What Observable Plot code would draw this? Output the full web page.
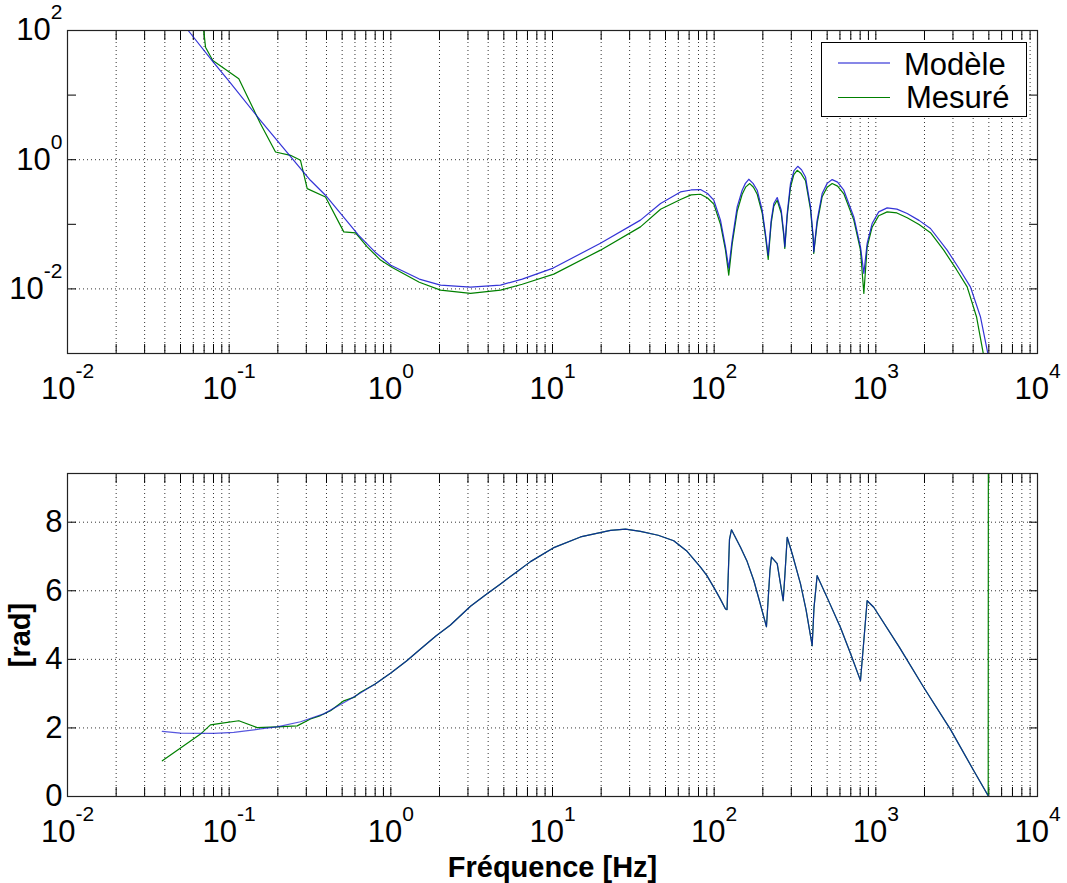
<!DOCTYPE html>
<html><head><meta charset="utf-8">
<script src="https://cdn.jsdelivr.net/npm/d3@7"></script>
<script src="https://cdn.jsdelivr.net/npm/@observablehq/plot@0.6"></script>
<style>
body{margin:0;background:#fff;font-family:"Liberation Sans",Arial,sans-serif;}
#wrap{position:relative;width:1067px;height:883px;overflow:hidden;background:#fff}
#top{position:absolute;left:0;top:0}
#bot{position:absolute;left:0;top:400px}
#legend{position:absolute;left:821px;top:42px}
</style></head>
<body><div id="wrap"><div id="top"></div><div id="bot"></div>
<svg id="legend" width="207" height="76" font-family="Liberation Sans, Arial, sans-serif">
<rect x="0.5" y="0.5" width="205" height="74" fill="#fff" stroke="#000" stroke-width="1"/>
<line x1="17" x2="69" y1="21" y2="21" stroke="#1010d0" stroke-width="1.2"/>
<text x="83" y="32.5" font-size="31" fill="#000">Modèle</text>
<line x1="17" x2="69" y1="55.5" y2="55.5" stroke="#008000" stroke-width="1.2"/>
<text x="85" y="65.5" font-size="31" fill="#000">Mesuré</text>
</svg>
</div>
<script>
// ---------- data ----------
const xDomain = [1e-2, 1e4];
const xLabelTicks = [1e-2, 1e-1, 1e0, 1e1, 1e2, 1e3, 1e4];
const xTickText = ["10^-2", "10^-1", "10^0", "10^1", "10^2", "10^3", "10^4"];
const magDomain = [1e-3, 1e2];
const magDecades = [1e-3, 1e-2, 1e-1, 1e0, 1e1, 1e2];
const magLabelTicks = [1e-2, 1e0, 1e2];
const magTickText = ["10^-2", "10^0", "10^2"];
const phaseDomain = [0, 9.42];
const phaseTicks = [0, 2, 4, 6, 8];
const phaseGrid = [2, 4, 6, 8];
const xTitle = "Fréquence [Hz]";
const yTitle = "[rad]";

// magnitude, model (frequency Hz, value)
const modeleMag = [[0.0386,300],[0.05,139],[0.0558,100],[0.080,32],[0.1,16.3],[0.156,4.06],[0.318,0.48],[0.394,0.282],[0.5,0.138],[0.631,0.068],[0.8,0.037],[1.0,0.0233],[1.5,0.0142],[2.03,0.01146],[3.11,0.01066],[4.77,0.01146],[6.5,0.0142],[10.1,0.021],[19.8,0.051],[35,0.116],[46.6,0.21],[61.9,0.317],[72,0.34],[82.3,0.345],[91,0.30],[99.5,0.236],[109.4,0.116],[117.5,0.0448],[123.1,0.021],[129.2,0.0568],[138.8,0.186],[149,0.337],[156,0.43],[163.7,0.498],[174,0.43],[184.6,0.337],[198.2,0.165],[207.6,0.0721],[215.9,0.0333],[225.3,0.116],[233.8,0.2096],[245.4,0.2597],[260,0.165],[269.7,0.0721],[273.5,0.0448],[283,0.147],[296.5,0.427],[312,0.68],[328.9,0.791],[347,0.70],[367.3,0.541],[394.5,0.186],[409.8,0.0638],[413,0.0374],[433.5,0.116],[465.6,0.299],[500,0.43],[537,0.492],[580,0.45],[633.9,0.337],[730.8,0.130],[803.5,0.0448],[843,0.0174],[883.5,0.0505],[948.5,0.1028],[1042,0.1556],[1175,0.1794],[1350,0.172],[1563,0.147],[1850,0.115],[2178,0.0861],[2761,0.0398],[3300,0.02],[3847,0.01077],[4436,0.00371],[4921,0.00102],[5050,0.0003]];
// magnitude, measured
const mesureMag = [[0.0386,3.5e5],[0.0665,291],[0.0714,55.2],[0.0792,34.4],[0.1147,17.9],[0.1562,3.61],[0.1935,1.315],[0.2395,1.169],[0.2762,0.979],[0.3039,0.357],[0.3944,0.265],[0.5117,0.0763],[0.6045,0.0736],[0.7143,0.0448],[0.863,0.0279],[1.0195,0.0215],[1.5,0.0127],[2.03,0.00958],[3.11,0.00851],[4.77,0.00958],[6.5,0.0118],[10.19,0.01694],[19.8,0.0398],[35,0.0912],[46.6,0.171],[61.9,0.2417],[72,0.285],[82.3,0.292],[91,0.255],[99.5,0.205],[109.4,0.1004],[117.5,0.0398],[123.1,0.0163],[129.2,0.0492],[138.8,0.159],[149,0.292],[157,0.38],[166,0.427],[175,0.375],[184.6,0.292],[198.2,0.1485],[207.6,0.0655],[215.9,0.0286],[225.3,0.104],[233.8,0.1905],[245.4,0.236],[260,0.1485],[269.7,0.0655],[273.5,0.0423],[283,0.133],[296.5,0.374],[311,0.59],[326.3,0.686],[345,0.61],[367.3,0.472],[394.5,0.168],[409.8,0.0589],[413,0.0354],[433.5,0.104],[465.6,0.267],[500,0.375],[537,0.427],[580,0.39],[633.9,0.297],[730.8,0.116],[803.5,0.0398],[843,0.00851],[883.5,0.0443],[948.5,0.0902],[1042,0.136],[1175,0.1556],[1350,0.150],[1563,0.1265],[1850,0.099],[2178,0.0741],[2630,0.0398],[3150,0.02],[3673,0.01077],[4194,0.00371],[4613,0.00102],[4750,0.0004]];
// phase, model
const modelePhase = [[0.0386,1.90],[0.05,1.85],[0.0804,1.84],[0.1068,1.87],[0.1562,1.97],[0.198,2.03],[0.2762,2.18],[0.385,2.41],[0.537,2.79],[0.6336,2.99],[0.8,3.28],[1.0,3.6],[1.25,3.95],[1.526,4.3],[1.9,4.68],[2.339,5.0],[3.11,5.55],[3.9,5.9],[4.77,6.2],[6,6.55],[7.31,6.85],[10.1,7.25],[14.9,7.57],[22.84,7.76],[28.3,7.8],[35,7.73],[45,7.62],[56.2,7.46],[68,7.15],[82.3,6.69],[90,6.45],[99.5,6.10],[108,5.8],[117.5,5.47],[120.1,5.45],[124.4,7.5],[128,7.78],[145.5,7.27],[160,6.85],[175.8,6.30],[192,5.65],[210.6,4.95],[221.4,6.6],[226.2,6.98],[245.4,6.79],[267.3,5.71],[274.2,6.5],[283,7.56],[303.8,7.08],[342,6.2],[370,5.45],[403.9,4.40],[414.4,5.5],[433.5,6.44],[500,5.8],[604.4,4.93],[700,4.15],[803.5,3.38],[844.8,4.6],[883.5,5.71],[970.9,5.52],[1400,4.35],[1980,3.18],[2900,1.95],[4036,0.75],[4955,0.02],[5050,-0.2]];
// phase, measured
const mesurePhase = [[0.0386,1.04],[0.0665,1.82],[0.0766,2.09],[0.0884,2.13],[0.1147,2.21],[0.149,2.01],[0.198,2.03],[0.2635,2.06],[0.3184,2.26],[0.3672,2.36],[0.4235,2.50],[0.5117,2.79],[0.59,2.89],[0.649,3.04],[0.8,3.28],[1.0,3.6],[1.25,3.95],[1.526,4.3],[1.9,4.68],[2.339,5.0],[3.11,5.55],[3.9,5.9],[4.77,6.2],[6,6.55],[7.31,6.85],[10.1,7.25],[14.9,7.57],[22.84,7.76],[28.3,7.8],[35,7.73],[45,7.62],[56.2,7.46],[68,7.15],[82.3,6.69],[90,6.45],[99.5,6.10],[108,5.8],[117.5,5.47],[120.1,5.45],[124.4,7.5],[128,7.78],[145.5,7.27],[160,6.85],[175.8,6.30],[192,5.65],[210.6,4.95],[221.4,6.6],[226.2,6.98],[245.4,6.79],[267.3,5.71],[274.2,6.5],[283,7.56],[303.8,7.08],[342,6.2],[370,5.45],[403.9,4.40],[414.4,5.5],[433.5,6.44],[500,5.8],[604.4,4.93],[700,4.15],[803.5,3.38],[844.8,4.6],[883.5,5.71],[970.9,5.52],[1400,4.35],[1980,3.18],[2900,1.95],[4036,0.75],[4955,0.02],[4970,14]];

// ---------- styling ----------
const BLUE = "#1010d0", GREEN = "#008000";
const FONT = '"Liberation Sans", Arial, sans-serif';
const TICK_FS = 31;
const gridStyle = {stroke: "#000", strokeWidth: 1, strokeDasharray: "1,3", strokeOpacity: 0.8};
const minorX = d3.scaleLog().domain(xDomain).ticks();
const fmt = (ticks, texts) => d => texts[ticks.indexOf(d)];
const common = {
  width: 1067, marginLeft: 67, marginRight: 30,
  x: {type: "log", domain: xDomain},
  style: {fontFamily: FONT, fontSize: TICK_FS + "px", background: "white", color: "#000", overflow: "visible"}
};
const innerTicks = (xt, yt) => [
  Plot.axisX(xt, {anchor: "bottom", tickSize: -9, tickFormat: () => "", label: null}),
  Plot.axisX(xt, {anchor: "top", tickSize: -9, tickFormat: () => "", label: null}),
  Plot.axisY(yt, {anchor: "left", tickSize: -9, tickFormat: () => "", label: null}),
  Plot.axisY(yt, {anchor: "right", tickSize: -9, tickFormat: () => "", label: null})
];

const topPlot = Plot.plot({
  ...common, height: 400, marginTop: 30, marginBottom: 47,
  y: {type: "log", domain: magDomain},
  marks: [
    Plot.ruleX(minorX, gridStyle),
    Plot.ruleY(magLabelTicks, gridStyle),
    ...innerTicks(minorX, magDecades),
    Plot.line(mesureMag, {x: d => d[0], y: d => d[1], stroke: GREEN, strokeWidth: 1.2, clip: true}),
    Plot.line(modeleMag, {x: d => d[0], y: d => d[1], stroke: BLUE, strokeWidth: 1.2, strokeOpacity: 0.85, clip: true}),
    Plot.frame({stroke: "#222", strokeWidth: 1.2}),
    Plot.axisX(xLabelTicks, {anchor: "bottom", tickSize: 0, tickPadding: 23, fontSize: TICK_FS, tickFormat: fmt(xLabelTicks, xTickText), label: null}),
    Plot.axisY(magLabelTicks, {anchor: "left", tickSize: 0, tickPadding: 5, fontSize: TICK_FS, tickFormat: fmt(magLabelTicks, magTickText), label: null})
  ]
});

const botPlot = Plot.plot({
  ...common, height: 483, marginTop: 73, marginBottom: 87,
  y: {domain: phaseDomain},
  marks: [
    Plot.ruleX(minorX, gridStyle),
    Plot.ruleY(phaseGrid, gridStyle),
    ...innerTicks(minorX, phaseTicks),
    Plot.line(mesurePhase, {x: d => d[0], y: d => d[1], stroke: GREEN, strokeWidth: 1.2, clip: true}),
    Plot.line(modelePhase, {x: d => d[0], y: d => d[1], stroke: BLUE, strokeWidth: 1.2, strokeOpacity: 0.7, clip: true}),
    Plot.frame({stroke: "#222", strokeWidth: 1.2}),
    Plot.axisX(xLabelTicks, {anchor: "bottom", tickSize: 0, tickPadding: 23, fontSize: TICK_FS, tickFormat: fmt(xLabelTicks, xTickText), label: xTitle, labelAnchor: "center", labelOffset: 80, labelArrow: "none"}),
    Plot.axisY(phaseTicks, {anchor: "left", tickSize: 0, tickPadding: 5, fontSize: TICK_FS, label: yTitle, labelAnchor: "center", labelOffset: 58, labelArrow: "none"})
  ]
});

function addExponents(svg) {
  const ns = "http://www.w3.org/2000/svg";
  svg.querySelectorAll("text").forEach(t => {
    const s = t.textContent;
    if (!s.includes("^")) return;
    const [base, exp] = s.split("^");
    while (t.firstChild) t.removeChild(t.firstChild);
    const a = document.createElementNS(ns, "tspan"); a.textContent = base;
    const b = document.createElementNS(ns, "tspan"); b.textContent = exp;
    b.setAttribute("font-size", "21"); b.setAttribute("dy", "-21");
    t.append(a, b);
  });
}
function boldLabels(svg) {
  svg.querySelectorAll('g[aria-label="x-axis label"] text, g[aria-label="y-axis label"] text').forEach(t => {
    t.setAttribute("font-weight", "bold");
    t.setAttribute("font-size", "29");
    t.textContent = t.textContent.includes("Hz") ? xTitle : yTitle;
  });
}
addExponents(topPlot); addExponents(botPlot); boldLabels(botPlot);
document.getElementById("top").append(topPlot);
document.getElementById("bot").append(botPlot);
</script></body></html>
